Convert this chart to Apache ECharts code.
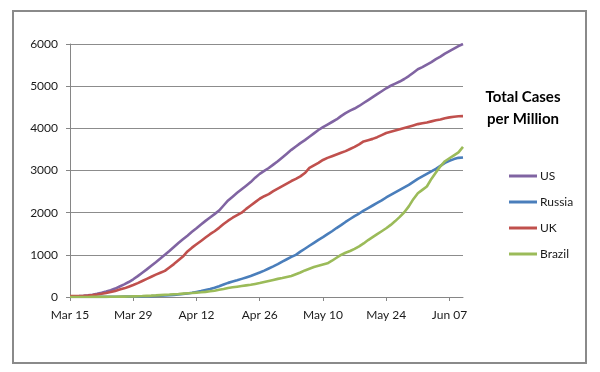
<!DOCTYPE html>
<html>
<head>
<meta charset="utf-8">
<script src="https://cdn.jsdelivr.net/npm/echarts@6/dist/echarts.min.js"></script>
<style>html,body{margin:0;padding:0;background:#fff;}#c{width:600px;height:372px;}</style>
</head>
<body>
<div id="c"></div>
<script>
const dates = [
 'Mar 15','Mar 16','Mar 17','Mar 18','Mar 19','Mar 20','Mar 21','Mar 22','Mar 23','Mar 24','Mar 25','Mar 26','Mar 27','Mar 28',
 'Mar 29','Mar 30','Mar 31','Apr 01','Apr 02','Apr 03','Apr 04','Apr 05','Apr 06','Apr 07','Apr 08','Apr 09','Apr 10','Apr 11',
 'Apr 12','Apr 13','Apr 14','Apr 15','Apr 16','Apr 17','Apr 18','Apr 19','Apr 20','Apr 21','Apr 22','Apr 23','Apr 24','Apr 25',
 'Apr 26','Apr 27','Apr 28','Apr 29','Apr 30','May 01','May 02','May 03','May 04','May 05','May 06','May 07','May 08','May 09',
 'May 10','May 11','May 12','May 13','May 14','May 15','May 16','May 17','May 18','May 19','May 20','May 21','May 22','May 23',
 'May 24','May 25','May 26','May 27','May 28','May 29','May 30','May 31','Jun 01','Jun 02','Jun 03','Jun 04','Jun 05','Jun 06',
 'Jun 07','Jun 08','Jun 09','Jun 10'
];
const seriesNames = ['US','Russia','UK','Brazil'];
const usValues = [
 10,14,20,28,40,55,75,100,128,160,200,250,300,355,
 420,495,575,655,740,825,912,1000,1090,1185,1280,1370,1455,1545,
 1630,1720,1805,1885,1965,2050,2170,2290,2380,2470,2555,2640,2725,2830,
 2920,2990,3060,3140,3220,3310,3400,3490,3570,3650,3720,3800,3880,3960,
 4030,4090,4150,4210,4290,4360,4420,4470,4530,4600,4670,4740,4810,4880,
 4950,5010,5060,5110,5170,5240,5320,5400,5450,5510,5570,5640,5700,5770,
 5830,5890,5950,6000
];
const russiaValues = [
 1,1,1,1,2,2,3,3,4,5,6,7,9,10,
 12,14,16,18,21,25,30,36,42,50,60,72,85,100,
 120,140,165,190,220,255,295,335,365,395,430,465,500,540,
 580,625,675,725,780,840,895,950,1000,1075,1145,1215,1285,1355,
 1420,1490,1560,1635,1705,1780,1850,1920,1980,2050,2110,2170,2230,2290,
 2360,2420,2480,2540,2600,2660,2730,2800,2860,2920,2980,3040,3110,3180,
 3230,3270,3300,3310
];
const ukValues = [
 20,22,25,30,36,45,58,75,95,118,145,175,205,245,
 285,330,380,430,480,530,575,620,700,780,870,960,1080,1170,
 1250,1330,1410,1490,1560,1640,1730,1810,1880,1940,2000,2090,2170,2250,
 2330,2390,2440,2510,2570,2630,2690,2750,2800,2860,2940,3060,3120,3180,
 3250,3300,3340,3380,3420,3460,3510,3560,3620,3690,3720,3750,3790,3840,
 3890,3920,3950,3980,4010,4040,4070,4100,4120,4140,4165,4190,4210,4240,
 4260,4275,4285,4290
];
const brazilValues = [
 0,0,1,1,1,2,2,3,4,5,6,8,10,12,
 15,18,22,27,32,38,45,52,58,65,72,80,88,95,
 103,112,122,135,150,170,190,215,230,245,260,275,290,310,
 330,355,380,405,430,450,475,500,540,580,630,670,710,740,
 770,800,860,930,1000,1050,1090,1140,1200,1270,1350,1420,1490,1560,
 1630,1710,1800,1900,2010,2150,2320,2460,2540,2620,2800,2950,3100,3220,
 3290,3360,3430,3560
];
const colors = ['#8064A2','#4A7EBB','#C0504D','#9BBB59'];
const titleLines = ['Total Cases','per Million'];

const chart = echarts.init(document.getElementById('c'), null, {renderer:'canvas'});
const valuesList = [usValues, russiaValues, ukValues, brazilValues];
const FONT = 'Lato, "Open Sans", sans-serif';
chart.setOption({
  animation: false,
  backgroundColor: '#fff',
  color: colors,
  grid: {left: 70, right: 137, top: 44, bottom: 75, containLabel: false},
  xAxis: {
    type: 'category',
    data: dates,
    boundaryGap: false,
    axisLine: {lineStyle: {color: '#868686', width: 1}},
    axisTick: {show: true, interval: 13, length: 4, lineStyle: {color: '#868686'}},
    axisLabel: {interval: 13, color: '#1a1a1a', fontFamily: FONT, fontSize: 12, margin: 12},
    splitLine: {show: false}
  },
  yAxis: {
    type: 'value',
    min: 0, max: 6000, interval: 1000,
    axisLine: {show: true, lineStyle: {color: '#868686', width: 1}},
    axisTick: {show: true, length: 4, lineStyle: {color: '#868686'}},
    axisLabel: {color: '#1a1a1a', fontFamily: FONT, fontSize: 12, margin: 12, formatter: v => String(v)},
    splitLine: {show: true, lineStyle: {color: '#8c8c8c', width: 1}}
  },
  legend: {
    orient: 'vertical',
    left: 504, top: 165,
    itemWidth: 28, itemHeight: 3, itemGap: 14,
    icon: 'rect',
    textStyle: {color: '#1a1a1a', fontFamily: FONT, fontSize: 12, padding: [0,0,0,-2]},
    data: seriesNames
  },
  graphic: [
    {type: 'rect', shape: {x: 13, y: 11, width: 573, height: 352}, style: {fill: 'none', stroke: '#8a8a8a', lineWidth: 2}, silent: true, z: -1},
    {type: 'text', x: 523, y: 97, style: {text: titleLines[0], font: 'bold 15px ' + FONT, fill: '#000', textAlign: 'center', textVerticalAlign: 'middle'}},
    {type: 'text', x: 523, y: 119, style: {text: titleLines[1], font: 'bold 15px ' + FONT, fill: '#000', textAlign: 'center', textVerticalAlign: 'middle'}}
  ],
  series: seriesNames.map((n, i) => ({
    name: n,
    type: 'line',
    data: valuesList[i],
    symbol: 'none',
    smooth: false,
    lineStyle: {width: 2.6, color: colors[i]},
    itemStyle: {color: colors[i]}
  }))
});
</script>
</body>
</html>
